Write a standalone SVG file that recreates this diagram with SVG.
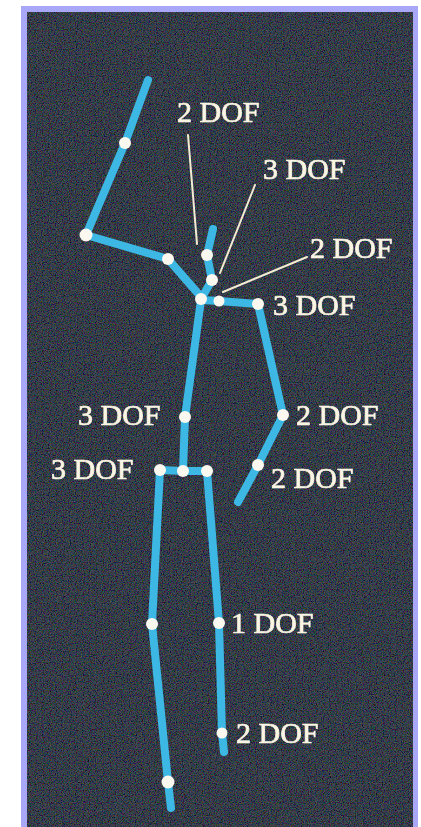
<svg xmlns="http://www.w3.org/2000/svg" width="421" height="827" viewBox="0 0 421 827">
  <style>
    .limb { stroke: #3db8e4; stroke-width: 8; stroke-linecap: round; fill: none; }
    .ptr { stroke: #f3ecd2; stroke-width: 2; stroke-linecap: round; }
    .joint { fill: #fbf8ef; }
    .lbl { font-family: "Liberation Serif", "Times New Roman", serif; font-size: 30px; fill: #fbf5e4; stroke: #fbf5e4; stroke-width: 0.7; }
  </style>
  <defs>
    <filter id="grain" x="0" y="0" width="100%" height="100%">
      <feTurbulence type="fractalNoise" baseFrequency="0.85" numOctaves="2" seed="7" result="n"/>
      <feColorMatrix in="n" type="matrix" values="1.2 0 0 0 -0.45  0 1.0 0 0 -0.33  0 0 1.3 0 -0.42  0 0 0 0 0.4"/>
    </filter>
    <filter id="soft" x="-20%" y="-20%" width="140%" height="140%">
      <feGaussianBlur stdDeviation="0.6"/>
    </filter>
  </defs>

  <!-- page and frame -->
  <rect x="0" y="0" width="421" height="827" fill="#ffffff"/>
  <rect x="21" y="6" width="397" height="821" fill="#a9a8f8"/>
  <rect x="27" y="12" width="386" height="815" fill="#161c25"/>
  <rect x="27" y="12" width="386" height="815" filter="url(#grain)"/>

  <g filter="url(#soft)">
    <!-- limbs and pointer lines -->
    <g id="connectors">
      <!-- raised arm -->
      <polyline class="limb" points="148,80 125,143 86,235 168,259 202,298"/>
      <!-- head / neck -->
      <polyline class="limb" points="213,229 207,255 212,280 201,299"/>
      <!-- shoulders -->
      <polyline class="limb" points="201,300 219,301 258,304"/>
      <!-- spine -->
      <polyline class="limb" points="201,300 185,417 183,471"/>
      <!-- pelvis -->
      <polyline class="limb" points="160,470 183,471 207,471"/>
      <!-- lowered arm -->
      <polyline class="limb" points="258,304 283,415 258,465 238,502"/>
      <!-- legs -->
      <polyline class="limb" points="160,470 152,624 168,782 171,808"/>
      <polyline class="limb" points="207,471 219,623 222,733 224,752"/>
      <!-- label pointers -->
      <line class="ptr" x1="188" y1="135" x2="197" y2="244"/>
      <line class="ptr" x1="255" y1="185" x2="220" y2="273"/>
      <line class="ptr" x1="307" y1="257" x2="223" y2="292"/>
    </g>

    <!-- joints with their labels -->
    <g id="wrist-r"><circle class="joint" cx="125" cy="143" r="6"/></g>
    <g id="elbow-r"><circle class="joint" cx="86" cy="235" r="6.5"/></g>
    <g id="clavicle-r"><circle class="joint" cx="168" cy="259" r="6"/></g>
    <g id="head"><circle class="joint" cx="207" cy="255" r="6"/>
      <text class="lbl" x="177" y="122">2 DOF</text></g>
    <g id="neck"><circle class="joint" cx="212" cy="280" r="6"/>
      <text class="lbl" x="263" y="179">3 DOF</text></g>
    <g id="spine-top"><circle class="joint" cx="201" cy="299" r="6"/></g>
    <g id="clavicle-l"><circle class="joint" cx="219" cy="301" r="5.5"/>
      <text class="lbl" x="310" y="258">2 DOF</text></g>
    <g id="shoulder-l"><circle class="joint" cx="258" cy="304" r="6"/>
      <text class="lbl" x="273" y="315">3 DOF</text></g>
    <g id="waist"><circle class="joint" cx="185" cy="417" r="6"/>
      <text class="lbl" x="78" y="425">3 DOF</text></g>
    <g id="elbow-l"><circle class="joint" cx="283" cy="415" r="6"/>
      <text class="lbl" x="296" y="425">2 DOF</text></g>
    <g id="wrist-l"><circle class="joint" cx="258" cy="465" r="6"/>
      <text class="lbl" x="271" y="488">2 DOF</text></g>
    <g id="hip-r"><circle class="joint" cx="160" cy="470" r="6"/>
      <text class="lbl" x="51" y="479">3 DOF</text></g>
    <g id="pelvis"><circle class="joint" cx="183" cy="471" r="6"/></g>
    <g id="hip-l"><circle class="joint" cx="207" cy="471" r="6"/></g>
    <g id="knee-r"><circle class="joint" cx="152" cy="624" r="6"/></g>
    <g id="knee-l"><circle class="joint" cx="219" cy="623" r="6"/>
      <text class="lbl" x="231" y="633">1 DOF</text></g>
    <g id="ankle-r"><circle class="joint" cx="168" cy="782" r="6.5"/></g>
    <g id="ankle-l"><circle class="joint" cx="222" cy="733" r="5.5"/>
      <text class="lbl" x="236" y="743">2 DOF</text></g>
  </g>
</svg>
